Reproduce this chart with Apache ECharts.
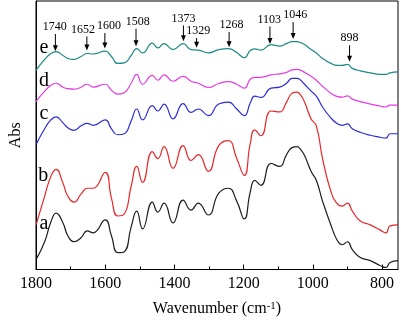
<!DOCTYPE html>
<html>
<head>
<meta charset="utf-8">
<script src="https://cdn.jsdelivr.net/npm/echarts@6/dist/echarts.min.js"></script>
<style>
  html, body { margin: 0; padding: 0; background: #fff; }
  #chart { width: 401px; height: 322px; }
</style>
</head>
<body>
<div id="chart"></div>
<script>
// wavenumber grid (cm-1) shared by all spectra
const wave = [1800, 1775, 1757, 1742, 1722, 1708, 1690, 1670, 1652, 1635, 1600, 1582, 1564, 1545, 1525, 1509, 1492, 1464, 1448, 1430, 1404, 1375, 1352, 1331, 1302, 1272, 1244, 1220, 1198, 1181, 1168, 1150, 1121, 1096, 1076, 1060, 1046, 1035, 1024, 1005, 990, 972, 948, 929, 915, 900, 886, 863, 834, 806, 789, 777, 754]

// absorbance (stacked, arbitrary units)
const absA = [10, 28, 48, 57, 47, 34, 28, 32, 39, 37, 50, 34, 17, 18, 43, 59, 41, 68, 58, 67, 47, 70, 60, 67, 55, 77, 82, 69, 51, 78, 90, 85, 107, 104, 116, 123, 124, 121, 115, 99, 90, 69, 45, 29, 25, 28, 20, 12, 9, 4, 2, 7, 9]
const absB = [45, 74, 94, 101, 87, 74, 68, 76, 82, 82, 98, 72, 54, 56, 84, 104, 88, 119, 112, 124, 102, 125, 110, 116, 99, 125, 130, 112, 95, 127, 141, 135, 160, 159, 169, 178, 179, 176, 169, 152, 145, 112, 79, 66, 64, 67, 59, 49, 45, 40, 37, 44, 45]
const absC = [126, 142, 151, 154, 148, 143, 140.5, 145, 147.5, 145.5, 151, 142, 136, 137, 150, 162, 151, 165.5, 160, 167, 152, 167.5, 158.5, 162, 155.3, 167, 169, 162, 155.3, 168, 175, 173.7, 183, 184, 188, 193, 193, 191, 187, 180, 175, 164, 153, 147, 145.5, 147, 142, 138.5, 135.5, 133.5, 132.5, 137, 137]
const absD = [169.5, 180, 186, 188, 184, 182.5, 182, 184, 187, 184, 187, 181, 177, 178.5, 188, 197, 187, 196, 191, 196.5, 190, 195, 190, 188, 183.7, 187.7, 189.7, 187, 183, 192, 194, 194, 196.5, 197.5, 199, 201.5, 202, 201, 199, 195, 191, 185, 178, 174.5, 174, 175.3, 172, 169.5, 167, 165, 164, 166, 166]
const absE = [201, 212, 218, 220, 216, 213, 212, 215, 218, 217.5, 220.5, 215, 208, 208.5, 216, 223, 218.5, 228.5, 223.7, 228, 222, 228, 222, 221.5, 218.7, 222, 223, 219, 213.7, 221, 222.7, 221.5, 227, 225.5, 228, 230, 230, 229, 227, 222, 218.5, 213, 208, 206, 206, 207, 203, 200.5, 198.5, 197, 197, 198.5, 199.5]

// curve letters
const curveNames = ['a', 'b', 'c', 'd', 'e']
const letterWave = [1777, 1779, 1777, 1777, 1777]
const letterAbs = [46, 95, 157.5, 190.3, 223.5]

// peak arrows
const arrowLabels = ['1740', '1652', '1600', '1508', '1373', '1329', '1268', '1103', '1046', '898']
const arrowWave = [1744, 1653, 1601, 1511, 1374, 1336, 1242, 1124, 1057, 894]
const arrowTop = [237.7, 235.3, 238.7, 243, 246.3, 233.7, 239.7, 245.3, 249.7, 226.3]
const arrowTip = [220.3, 221, 223, 225.3, 230.3, 223.7, 224.3, 227.7, 232.7, 209.7]
const labelWave = [1746, 1664, 1589, 1506, 1374, 1331, 1235, 1126, 1051, 894]

const majorTicks = [800, 1000, 1200, 1400, 1600, 1800]
const minorTicks = [900, 1100, 1300, 1500, 1700]

const colors = ['#1e1e1e', '#e8262a', '#2b2bd6', '#e43ce4', '#1c8a86']
const serif = '"Liberation Serif", "DejaVu Serif", serif'

const spectra = [absA, absB, absC, absD, absE]

const lineSeries = spectra.map((abs, i) => ({
  name: curveNames[i],
  type: 'line',
  xAxisIndex: 0,
  smooth: 0.5,
  showSymbol: false,
  symbol: 'none',
  lineStyle: { color: colors[i], width: 1.2 },
  data: wave.map((w, j) => [w, abs[j]]),
  z: 3,
}))

const letterSeries = {
  type: 'custom',
  xAxisIndex: 0,
  data: curveNames.map((n, i) => [letterWave[i], letterAbs[i], i]),
  renderItem: (params, api) => {
    const p = api.coord([api.value(0), api.value(1)])
    return {
      type: 'text',
      style: {
        text: curveNames[api.value(2)],
        x: p[0],
        y: p[1],
        align: 'center',
        verticalAlign: 'middle',
        font: '20px ' + serif,
        fill: '#000',
      },
    }
  },
  z: 4,
}

const arrowSeries = {
  type: 'custom',
  xAxisIndex: 0,
  data: arrowLabels.map((t, i) => [arrowWave[i], arrowTop[i], arrowTip[i], labelWave[i], i]),
  renderItem: (params, api) => {
    const top = api.coord([api.value(0), api.value(1)])
    const tip = api.coord([api.value(0), api.value(2)])
    const tx = api.coord([api.value(3), api.value(1)])[0]
    return {
      type: 'group',
      children: [
        {
          type: 'line',
          shape: { x1: top[0], y1: top[1], x2: tip[0], y2: tip[1] - 5 },
          style: { stroke: '#000', lineWidth: 1 },
        },
        {
          type: 'polygon',
          shape: { points: [[tip[0] - 2.5, tip[1] - 6], [tip[0] + 2.5, tip[1] - 6], [tip[0], tip[1]]] },
          style: { fill: '#000' },
        },
        {
          type: 'text',
          style: {
            text: arrowLabels[api.value(4)],
            x: tx,
            y: top[1] - 7,
            align: 'center',
            verticalAlign: 'middle',
            font: '12px ' + serif,
            fill: '#000',
          },
        },
      ],
    }
  },
  z: 4,
}

const chart = echarts.init(document.getElementById('chart'), null, { renderer: 'canvas' })
chart.setOption({
  animation: false,
  backgroundColor: '#fff',
  grid: {
    left: 31,
    right: 3,
    top: 1,
    bottom: 50,
    show: true,
    borderColor: '#000',
    borderWidth: 1,
  },
  xAxis: [
    {
      type: 'value',
      min: 754,
      max: 1800,
      inverse: true,
      name: 'Wavenumber (cm{sup|-1})',
      nameLocation: 'middle',
      nameGap: 31,
      nameTextStyle: {
        fontFamily: serif,
        fontSize: 16,
        color: '#000',
        rich: {
          sup: { fontFamily: serif, fontSize: 11, color: '#000', verticalAlign: 'top', padding: [0, 0, 6, 0] },
        },
      },
      axisLine: { show: true, lineStyle: { color: '#000', width: 1 } },
      axisTick: { show: true, inside: true, length: 5, customValues: majorTicks, lineStyle: { color: '#000' } },
      axisLabel: {
        show: true,
        customValues: majorTicks,
        formatter: (v) => String(v),
        fontFamily: serif,
        fontSize: 16,
        color: '#000',
        margin: 6,
      },
      splitLine: { show: false },
    },
    {
      type: 'value',
      min: 754,
      max: 1800,
      inverse: true,
      position: 'bottom',
      axisLine: { show: false },
      axisTick: { show: true, inside: true, length: 3, customValues: minorTicks, lineStyle: { color: '#000' } },
      axisLabel: { show: false },
      splitLine: { show: false },
    },
  ],
  yAxis: {
    type: 'value',
    min: 0,
    max: 271,
    name: 'Abs',
    nameLocation: 'middle',
    nameGap: 12,
    nameTextStyle: { fontFamily: serif, fontSize: 16, color: '#000' },
    axisLine: { show: true, lineStyle: { color: '#000', width: 1 } },
    axisTick: { show: false },
    axisLabel: { show: false },
    splitLine: { show: false },
  },
  series: [...lineSeries, letterSeries, arrowSeries],
})
</script>
</body>
</html>
